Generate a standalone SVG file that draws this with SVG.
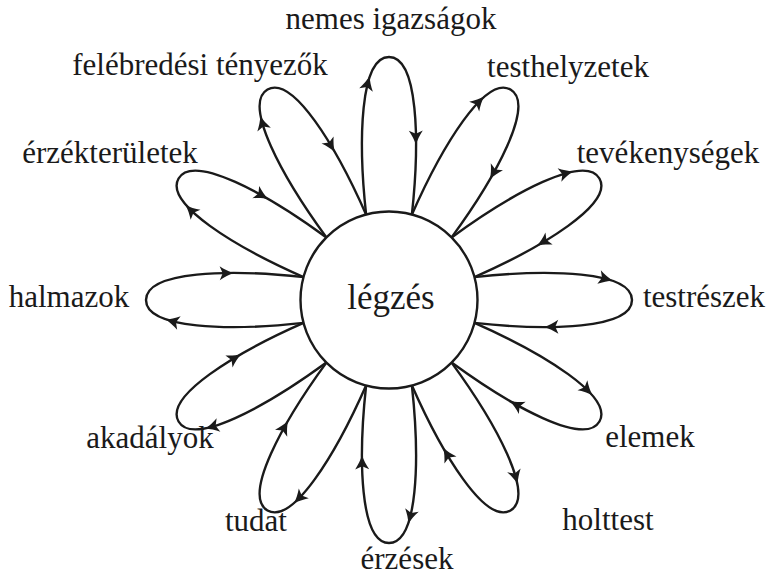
<svg xmlns="http://www.w3.org/2000/svg" xmlns:xlink="http://www.w3.org/1999/xlink" width="769" height="576" viewBox="0 0 769 576">
<style>
.ln{fill:none;stroke:#1a1a1a;stroke-width:2.4}
.ah{fill:#1a1a1a;stroke:none}
.lb{font-family:"Liberation Serif","Times New Roman",serif;font-size:31px;fill:#1a1a1a;text-anchor:middle}
.ct{font-size:35px}
</style>
<defs>
<path id="arrow" class="ah" d="M8,0 C3,-1.3 -2,-4 -6.5,-7 L-3.5,0 L-6.5,7 C-2,4 3,1.3 8,0 Z"/>
<g id="petal">
<path class="ln" d="M-22.9,-85.5 C-31,-160 -29,-243 0,-243 C29,-243 31,-160 22.9,-85.5"/>
<use xlink:href="#arrow" href="#arrow" transform="translate(-21.3,-216.4) rotate(-75.5)"/>
<use xlink:href="#arrow" href="#arrow" transform="translate(26.9,-162.8) rotate(89.2)"/>
</g>
</defs>
<rect width="769" height="576" fill="#ffffff"/>
<g id="connectors">
<use xlink:href="#petal" href="#petal" transform="translate(389,300) rotate(90)"/>
<use xlink:href="#petal" href="#petal" transform="translate(389,300) rotate(60)"/>
<use xlink:href="#petal" href="#petal" transform="translate(389,300) rotate(30)"/>
<use xlink:href="#petal" href="#petal" transform="translate(389,300) rotate(0)"/>
<use xlink:href="#petal" href="#petal" transform="translate(389,300) rotate(-30)"/>
<use xlink:href="#petal" href="#petal" transform="translate(389,300) rotate(-60)"/>
<use xlink:href="#petal" href="#petal" transform="translate(389,300) rotate(-90)"/>
<use xlink:href="#petal" href="#petal" transform="translate(389,300) rotate(-120)"/>
<use xlink:href="#petal" href="#petal" transform="translate(389,300) rotate(-150)"/>
<use xlink:href="#petal" href="#petal" transform="translate(389,300) rotate(180)"/>
<use xlink:href="#petal" href="#petal" transform="translate(389,300) rotate(150)"/>
<use xlink:href="#petal" href="#petal" transform="translate(389,300) rotate(120)"/>
</g>
<g id="legzes">
<circle class="ln" cx="389" cy="300" r="88.5"/>
<text class="lb ct" x="391" y="309">légzés</text>
</g>
<g id="nemes-igazsagok"><text class="lb" x="391" y="29">nemes igazságok</text></g>
<g id="testhelyzetek"><text class="lb" x="568" y="77">testhelyzetek</text></g>
<g id="tevekenysegek"><text class="lb" x="668" y="163">tevékenységek</text></g>
<g id="testreszek"><text class="lb" x="704" y="307">testrészek</text></g>
<g id="elemek"><text class="lb" x="650" y="447">elemek</text></g>
<g id="holttest"><text class="lb" x="608" y="530">holttest</text></g>
<g id="erzesek"><text class="lb" x="407" y="569">érzések</text></g>
<g id="tudat"><text class="lb" x="256" y="531">tudat</text></g>
<g id="akadalyok"><text class="lb" x="150" y="448">akadályok</text></g>
<g id="halmazok"><text class="lb" x="69" y="307">halmazok</text></g>
<g id="erzekteruletek"><text class="lb" x="110" y="163">érzékterületek</text></g>
<g id="felebredesi-tenyezok"><text class="lb" x="200" y="75">felébredési tényezők</text></g>
</svg>
